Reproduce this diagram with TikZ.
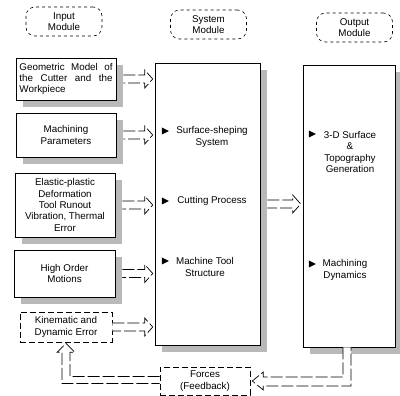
\documentclass[tikz,border=0pt]{standalone}
\usepackage{fontspec}
\setmainfont{Liberation Sans}
\usetikzlibrary{calc,shapes.geometric,shadows}
\newcommand\hollowright[3]{%
  \draw[hollow] ($(#1.east)+(#3,-4)$) -- ($(#1.east -| #2.west)+(-10,-4)$) -- ++(0,-5)
    -- ($(#1.east -| #2.west)+(-2,0)$) -- ($(#1.east -| #2.west)+(-10,9)$) -- ++(0,-5)
    -- ($(#1.east)+(#3,4)$);}
\begin{document}
\begin{tikzpicture}[x=1pt,y=-1pt,
  font=\fontsize{9.8}{11.3}\selectfont,
  head/.style={draw, dashed, line width=0.6pt, rounded corners=9pt, minimum width=76pt, minimum height=29pt, align=center, inner sep=0pt},
  shbox/.style={draw, line width=0.6pt, fill=white, align=center, inner sep=0pt,
    drop shadow={shadow xshift=7pt, shadow yshift=-7pt, fill=gray!55, opacity=1}},
  dbox/.style={draw, dash pattern=on 6pt off 3pt, line width=0.6pt, align=center, inner sep=0pt},
  hollow/.style={draw, line width=0.7pt, dash pattern=on 12pt off 3pt, fill=white},
  tri/.style={isosceles triangle, fill, draw=none, inner sep=0pt, minimum height=7pt, minimum width=7pt, isosceles triangle stretches},
  lbl/.style={align=center, inner sep=0pt}]
\useasboundingbox (0,0) rectangle (400,396);

% headers
\node[head] (hin) at (64,21.5) {Input\\Module};
\node[head] (hsys) at (208.5,24.5) {System\\Module};
\node[head] (hout) at (354.5,27.5) {Output\\Module};

% big boxes
\node[shbox, minimum width=105pt, minimum height=282pt] (sys) at (207.5,204) {};
\node[shbox, minimum width=92pt, minimum height=282pt] (out) at (349,206) {};

% input boxes
\node[shbox, minimum width=100pt, minimum height=42pt, text width=93pt, align=justify] (geo) at (66,79)
  {Geometric Model of\linebreak the Cutter and the\linebreak Workpiece};
\node[shbox, minimum width=100pt, minimum height=44pt] (mach) at (66,135) {Machining\\Parameters};
\node[shbox, minimum width=100pt, minimum height=64pt] (elas) at (65,205)
  {Elastic-plastic\\Deformation\\Tool Runout\\Vibration, Thermal\\Error};
\node[shbox, minimum width=101pt, minimum height=47pt] (high) at (64.5,273.5) {High Order\\Motions};
\node[dbox, minimum width=92pt, minimum height=30pt] (kin) at (66,327) {Kinematic and\\Dynamic Error};
\node[dbox, minimum width=90pt, minimum height=28pt] (forces) at (205,381) {Forces\\(Feedback)};

% system items
\node[tri] (t1) at (164,131) {};
\node[lbl] (s1) at (212,137) {Surface-sheping\\System};
\node[tri] (t2) at (164,201) {};
\node[lbl] (s2) at (212,201) {Cutting Process};
\node[tri] (t3) at (164,261) {};
\node[lbl] (s3) at (205,267) {Machine Tool\\Structure};

% output items
\node[tri] (t4) at (311,134) {};
\node[lbl] (o1) at (350,152) {3-D Surface\\\&\\Topography\\Generation};
\node[tri] (t5) at (311,264) {};
\node[lbl] (o2) at (345,270) {Machining\\Dynamics};

% hollow arrows input -> system
\hollowright{geo}{sys}{7}
\hollowright{mach}{sys}{7}
\hollowright{elas}{sys}{7}
\hollowright{high}{sys}{7}
\hollowright{kin}{sys}{0}
% system -> output
\hollowright{sys}{out}{7}

% feedback: output -> forces
\draw[hollow] ($(out.south)+(-6,0)$) -- ($(out.south |- forces.east)+(-6,-4)$) -- ($(forces.east)+(13,-4)$)
  -- ++(0,-5) -- ($(forces.east)+(2,0)$) -- ($(forces.east)+(13,9)$) -- ++(0,-4)
  -- ($(out.south |- forces.east)+(2,5)$) -- ($(out.south)+(2,0)$);
% feedback: forces -> kinematic
\draw[hollow] ($(forces.west)+(0,-4.5)$) -- ($(kin.south |- forces.west)+(4,-4.5)$) -- ($(kin.south)+(4,10)$)
  -- ++(5,0) -- ($(kin.south)+(0,1)$) -- ($(kin.south)+(-9,10)$) -- ++(5,0)
  -- ($(kin.south |- forces.west)+(-4,2.5)$) -- ($(forces.west)+(0,2.5)$);
\end{tikzpicture}
\end{document}
